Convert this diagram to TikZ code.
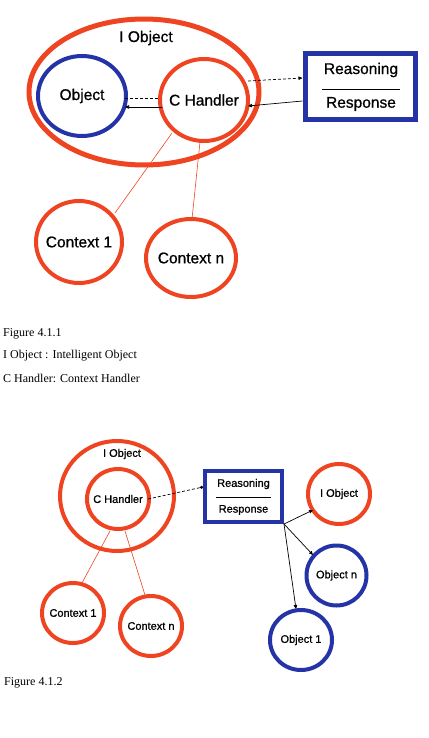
\documentclass[tikz,border=0pt]{standalone}
\usepackage{fontspec}
\setmainfont{Liberation Serif}
\newfontfamily\dfont[FakeBold=0.8]{Liberation Sans}
\usetikzlibrary{arrows.meta}
\definecolor{cred}{HTML}{EE4422}
\definecolor{cblue}{HTML}{2433A6}
\tikzset{
  lbl/.style={font=\dfont\fontsize{15.5}{17}\selectfont, inner sep=0pt},
  lbls/.style={font=\dfont\fontsize{11}{13}\selectfont, inner sep=0pt},
  captext/.style={font=\fontsize{12}{14}\selectfont, anchor=west, inner sep=0pt},
  tiparrow/.style={-{Triangle[length=4pt,width=3.5pt]}, line width=0.7pt},
  ctxline/.style={draw=cred, line width=0.6pt},
}
\begin{document}
\begin{tikzpicture}[x=1pt,y=-1pt]
\useasboundingbox (0,0) rectangle (428,738);
% ---------- Figure 4.1.1 ----------
\draw[cred, line width=5pt] (144,92) ellipse [x radius=115, y radius=73];
\node[lbl] (io1) at (146,38) {I Object};
\draw[cblue, line width=4pt] (82,96) ellipse [x radius=44, y radius=40];
\node[lbl] (obj1) at (82,96) {Object};
\draw[cred, line width=4pt] (204,100) ellipse [x radius=44, y radius=41];
\node[lbl] (ch1) at (204,100) {C Handler};
\coordinate (chL) at (160,98);
\coordinate (chLb) at (162,107);
\coordinate (objR) at (125,98);
\coordinate (objRb) at (125,107);
\draw[densely dashed, line width=0.7pt] (objR) -- (chL);
\draw[tiparrow] (chLb) -- (objRb);
% reasoning box
\node[draw=cblue, line width=5pt, minimum width=110pt, minimum height=66pt, inner sep=0pt] (rb1) at (360,87) {};
\node[lbl] (rs1) at (361,70) {Reasoning};
\node[lbl] (rp1) at (361,104) {Response};
\draw[line width=0.6pt] (322,89) -- (400,89);
\coordinate (chR1) at (248,81);
\coordinate (chR2) at (248,106);
\draw[tiparrow, densely dashed] (chR1) -- (rb1.west |- 0,78);
\draw[tiparrow] (rb1.west |- 0,101) -- (chR2);
% contexts
\draw[cred, line width=4pt] (79,242) ellipse [x radius=43, y radius=41];
\node[lbl] (c11) at (79,242) {Context 1};
\draw[cred, line width=4pt] (191,258) ellipse [x radius=45, y radius=39];
\node[lbl] (cn1) at (191,258) {Context n};
\coordinate (a1) at (172,133);
\coordinate (b1) at (115,213);
\coordinate (a2) at (200,142);
\coordinate (b2) at (192,219);
\draw[ctxline] (a1) -- (b1);
\draw[ctxline] (a2) -- (b2);
% captions
\node[captext] (f1) at (3,334) {Figure 4.1.1};
\node[captext] (f1a) at (3,356) {I Object : Intelligent Object};
\node[captext] (f1b) at (3,378) {C Handler: Context Handler};
% ---------- Figure 4.1.2 ----------
\draw[cred, line width=4pt] (117,496) ellipse [x radius=57, y radius=55];
\node[lbls] (io2) at (122,454) {I Object};
\draw[cred, line width=4pt] (118,499) ellipse [x radius=31, y radius=30];
\node[lbls] (ch2) at (118,499) {C Handler};
\node[draw=cblue, line width=4pt, minimum width=77pt, minimum height=51pt, inner sep=0pt] (rb2) at (243.5,496.5) {};
\node[lbls] (rs2) at (243.5,484) {Reasoning};
\node[lbls] (rp2) at (243.5,510) {Response};
\draw[line width=0.5pt] (216,497) -- (271,497);
\coordinate (ch2r) at (148,499);
\draw[-{Circle[length=3pt]}, densely dashed, line width=0.7pt] (ch2r) -- (rb2.west |- 0,487);
\draw[cred, line width=4pt] (339,494) ellipse [x radius=31, y radius=30];
\node[lbls] (io3) at (339,494) {I Object};
\draw[cblue, line width=4pt] (336.5,575.5) ellipse [x radius=30, y radius=30];
\node[lbls] (on2) at (336.5,575.5) {Object n};
\draw[cblue, line width=4pt] (301,640) ellipse [x radius=31, y radius=30];
\node[lbls] (o12) at (301,640) {Object 1};
\coordinate (rc) at (rb2.south east);
\coordinate (t1) at (313,510);
\coordinate (t2) at (313,555);
\coordinate (t3) at (296,609);
\draw[tiparrow] (rc) -- (t1);
\draw[tiparrow] (rc) -- (t2);
\draw[tiparrow] (rc) -- (t3);
\draw[cred, line width=4pt] (73,613) ellipse [x radius=31, y radius=30];
\node[lbls] (c12) at (73,613) {Context 1};
\draw[cred, line width=4pt] (151,626) ellipse [x radius=31, y radius=30];
\node[lbls] (cn2) at (151,626) {Context n};
\coordinate (a3) at (110,531);
\coordinate (b3) at (82,583);
\coordinate (a4) at (125,531);
\coordinate (b4) at (145,595);
\draw[ctxline] (a3) -- (b3);
\draw[ctxline] (a4) -- (b4);
\node[captext] (f2) at (4,683) {Figure 4.1.2};
\end{tikzpicture}
\end{document}
